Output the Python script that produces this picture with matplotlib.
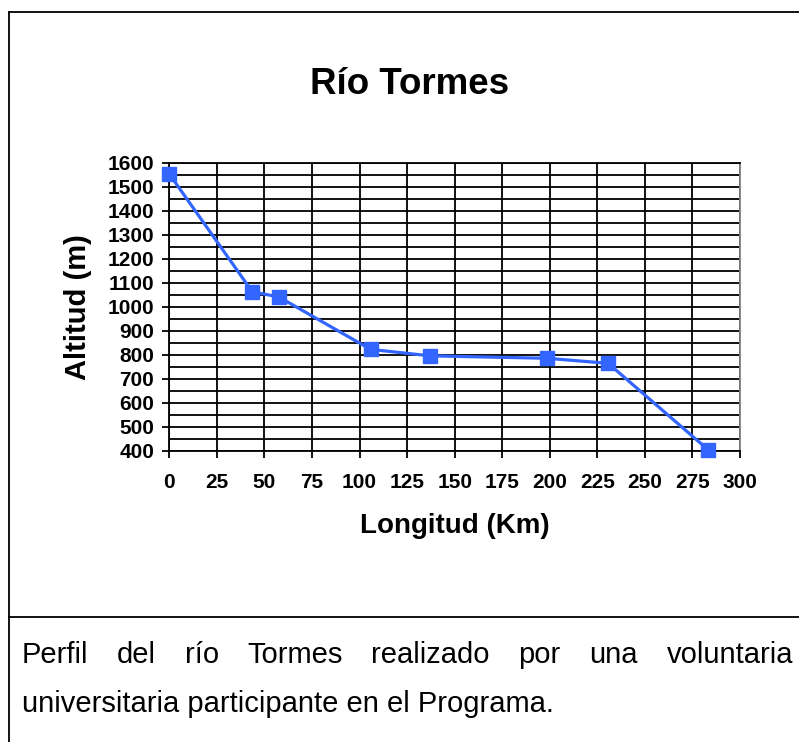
import matplotlib
matplotlib.use('Agg')
import matplotlib.pyplot as plt
from matplotlib.lines import Line2D
from matplotlib.ticker import MultipleLocator

plt.rcParams['font.family'] = ['Liberation Sans', 'DejaVu Sans']

# River profile
longitud_km = [0, 43.6, 57.6, 105.8, 137.3, 198.3, 230.7, 283.4]
altitud_m = [1553, 1063, 1041, 823, 796, 786, 765, 404]

title = 'Río Tormes'
xlabel = 'Longitud (Km)'
ylabel = 'Altitud (m)'
caption_1 = 'Perfil del río Tormes realizado por una voluntaria'
caption_2 = 'universitaria participante en el Programa.'

W, H = 799, 742
fig = plt.figure(figsize=(W / 100, H / 100), dpi=100)
fig.patch.set_facecolor('white')

# Plot area
ax = fig.add_axes([169.3 / W, 1 - 451 / H, (740 - 169.3) / W, (451 - 162.7) / H])
ax.plot(longitud_km, altitud_m, color='#3366ff', lw=2.3, marker='s', ms=10,
        mfc='#3366ff', mec='#3366ff', clip_on=False, zorder=5)

ax.set_xlim(0, 300)
ax.set_ylim(400, 1600)
ax.xaxis.set_major_locator(MultipleLocator(25))
ax.yaxis.set_major_locator(MultipleLocator(100))
ax.yaxis.set_minor_locator(MultipleLocator(50))
ax.grid(True, which='major', color='black', lw=1.3)
ax.grid(True, which='minor', axis='y', color='black', lw=1.3)
ax.set_axisbelow(True)
ax.tick_params(which='major', direction='out', length=5, width=1.3, color='black',
               labelsize=15)
ax.tick_params(which='minor', length=0)
for lab in ax.get_xticklabels() + ax.get_yticklabels():
    lab.set_fontweight('bold')
ax.tick_params(axis='x', pad=11)
ax.tick_params(axis='y', pad=6)

for side in ['left', 'bottom', 'top']:
    ax.spines[side].set_color('black')
    ax.spines[side].set_linewidth(1.3)
ax.spines['right'].set_color('#808080')
ax.spines['right'].set_linewidth(1.3)

ax.set_xlabel(xlabel, fontsize=20, fontweight='bold', labelpad=15)
ax.set_ylabel(ylabel, fontsize=21, fontweight='bold', labelpad=11)

fig.text(410 / W, 1 - 85 / H, title, fontsize=26.5, fontweight='bold',
         ha='center', va='center')

# Frame around chart and caption
frame = dict(color='black', lw=1.3, transform=fig.transFigure)
fig.add_artist(Line2D([8.7 / W, 1.0], [1 - 12.3 / H, 1 - 12.3 / H], **frame))
fig.add_artist(Line2D([8.7 / W, 8.7 / W], [0.0, 1 - 12.3 / H], **frame))
fig.add_artist(Line2D([8.7 / W, 1.0], [1 - 616.7 / H, 1 - 616.7 / H], **frame))

# Caption: first line justified, second line left aligned
left, right = 22, 793
renderer = fig.canvas.get_renderer()
words = caption_1.split()
texts = [fig.text(0, 1 - 663 / H, w, fontsize=21, va='baseline') for w in words]
widths = [t.get_window_extent(renderer).width for t in texts]
gap = (right - left - sum(widths)) / (len(words) - 1)
x = left
for t, w in zip(texts, widths):
    t.set_x(x / W)
    x += w + gap
fig.text(left / W, 1 - 712 / H, caption_2, fontsize=21, va='baseline')

fig.savefig('out.png', dpi=100, facecolor='white')
